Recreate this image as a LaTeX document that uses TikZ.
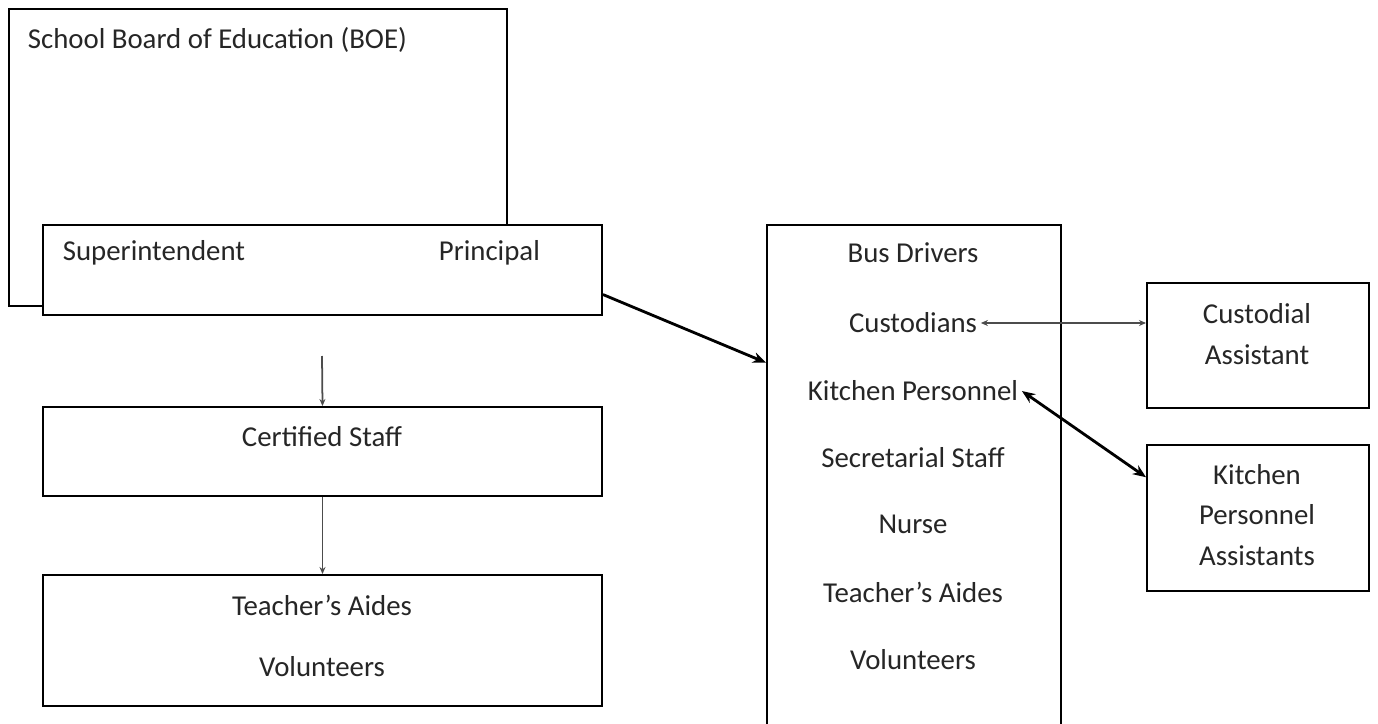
\documentclass[tikz,border=0pt]{standalone}
\usepackage{fontspec}
\setmainfont{Carlito}
\usetikzlibrary{
    arrows.meta,
    positioning,
    calc,
    fit
}

\begin{document}
\begin{tikzpicture}[
    x=0.02cm, y=-0.02cm,
    font=\fontsize{16.4}{23}\selectfont,
    box/.style={
        rectangle,
        draw,
        line width=1.1pt,
        fill=white,
        inner sep=0pt
    },
    entry/.style={text=black!85, inner sep=2pt, align=center},
    thinarrow/.style={-{Stealth[length=4pt,width=3.4pt]},line width=1pt,draw=black!70},
    arrow/.style={-{Stealth[length=7.5pt,width=6pt]},line width=1.6pt}
]
    \useasboundingbox (0,0) rectangle (1378,723);

    % Boxes
    \node[box,fit={(9,9) (507,306)}] (boe) {};
    \node[box,fit={(43,225) (602,315)}] (sup) {};
    \node[box,fit={(43,407) (602,496)}] (cert) {};
    \node[box,fit={(43,575) (602,706)}] (aidesbox) {};
    \node[box,fit={(767,225) (1061,740)}] (staff) {};
    \node[box,fit={(1147,283) (1369,408)}] (custbox) {};
    \node[box,fit={(1147,445) (1369,591)}] (kitchbox) {};

    % Texts
    \node[entry,anchor=west] (boetext) at (24,40) {School Board of Education (BOE)};
    \node[entry,anchor=west] (suptext) at (59,253) {Superintendent};
    \node[entry,anchor=west] (prin) at (435,253) {Principal};
    \node[entry] (certtext) at (322,437) {Certified Staff};
    \node[entry] (aides) at (322,605) {Teacher’s Aides};
    \node[entry] (vol) at (322,667) {Volunteers};

    \node[entry] (bus) at (913,253) {Bus Drivers};
    \node[entry] (custod) at (913,323) {Custodians};
    \node[entry] (kitchen) at (913,391) {Kitchen Personnel};
    \node[entry] (secr) at (913,458) {Secretarial Staff};
    \node[entry] (nurse) at (913,524) {Nurse};
    \node[entry] (staffaides) at (913,592) {Teacher’s Aides};
    \node[entry] (staffvol) at (913,660) {Volunteers};

    \node[entry] (custtext) at (1257,334) {Custodial\\Assistant};
    \node[entry] (kitchtext) at (1257,515) {Kitchen\\Personnel\\Assistants};

    % Arrows
    \coordinate (supdown) at (322,356);
    \draw[thinarrow] (supdown) -- (cert.north);
    \draw[thinarrow] (cert.south) -- (aidesbox.north);
    \draw[arrow] (sup.-5.3) -- (staff.141.4);
    \draw[thinarrow,line width=1.4pt,{Stealth[length=4pt,width=3.4pt]}-{Stealth[length=4pt,width=3.4pt]}] (custod.east) -- (custod.east -| custbox.west);
    \draw[arrow,{Stealth[length=7.5pt,width=6pt]}-{Stealth[length=7.5pt,width=6pt]}] (kitchen.east) -- (kitchbox.160);
\end{tikzpicture}
\end{document}
